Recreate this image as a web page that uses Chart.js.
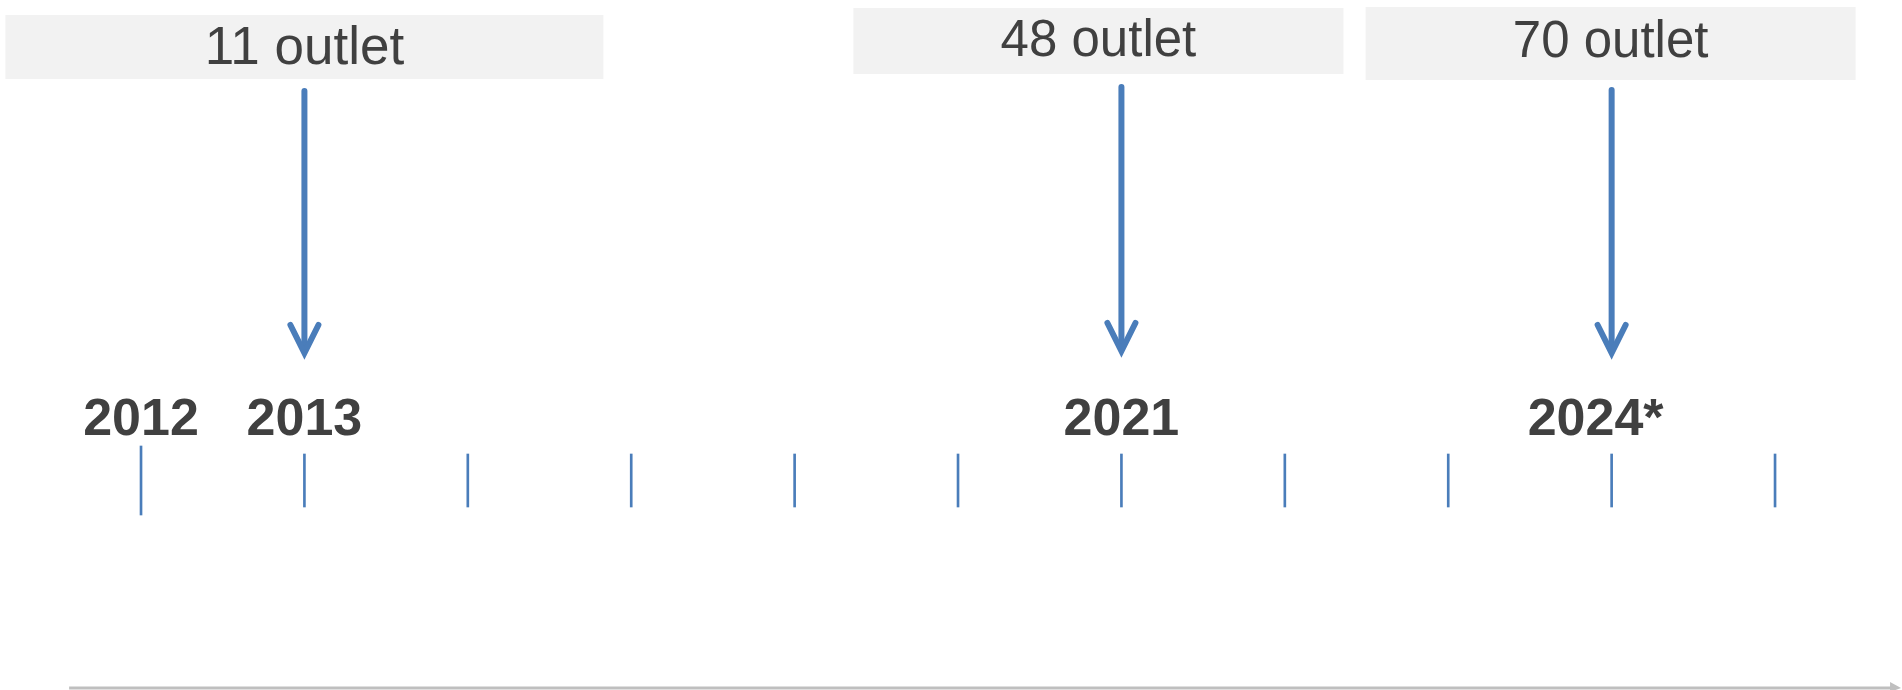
<!DOCTYPE html>
<html lang="id">
<head>
<meta charset="UTF-8">
<title>Timeline outlet</title>
<script src="https://cdn.jsdelivr.net/npm/chart.js"></script>
<style>
  html, body { margin: 0; padding: 0; background: #fff; overflow: hidden; }
  #wrap { width: 1902px; height: 690px; }
</style>
</head>
<body>
<div id="wrap"><canvas id="timeline" width="1902" height="690"></canvas></div>
<script>
// slots on the timeline (evenly spaced, not proportional to the years)
const tickLabels = ['2012', '2013', '', '', '', '', '2021', '', '', '2024*', ''];
// milestones: slot index and number of outlets
const milestoneSlots = [1, 6, 9];
const outletCounts = [11, 48, 70];
const milestoneText = outletCounts.map(n => n + ' outlet');

// layout / style (not data)
const BLUE = '#4a7dba';
const TEXT = '#404040';
const layout = {
    xMin: -0.863, xMax: 10.777,
    tick: [454, 507], firstTick: [446, 515],
    yearY: 421, yearDx: { '2024*': -16 },
    arrowTop: [91, 87, 90], arrowTip: [359, 357, 359],
    boxes: [
        { dx: 0, half: 299, y0: 15, y1: 79, ty: 49, size: 53 },
        { dx: -23, half: 245, y0: 8, y1: 74, ty: 42, size: 51 },
        { dx: -1, half: 245, y0: 7, y1: 80, ty: 43, size: 51 }
    ],
    axis: { x0: -0.44, x1: 10.765, y: 688 }
};

const tickData = tickLabels.map((_, i) => ({ x: i, y: i === 0 ? layout.firstTick : layout.tick }));

const arrowSets = milestoneSlots.map((slot, k) => ({
    type: 'line',
    data: [{ x: slot, y: layout.arrowTop[k] }, { x: slot, y: layout.arrowTip[k] - 9 }],
    borderColor: BLUE,
    borderWidth: 6,
    borderCapStyle: 'round',
    pointRadius: 0,
    fill: false
}));

const decor = {
    id: 'decor',
    beforeDatasetsDraw(chart) {
        const { ctx, scales: { x, y } } = chart;
        ctx.save();
        // grey base arrow
        const ax0 = x.getPixelForValue(layout.axis.x0);
        const ax1 = x.getPixelForValue(layout.axis.x1);
        const ay = y.getPixelForValue(layout.axis.y);
        ctx.strokeStyle = '#bfbfbf';
        ctx.lineWidth = 3;
        ctx.beginPath();
        ctx.moveTo(ax0, ay);
        ctx.lineTo(ax1 - 6, ay);
        ctx.stroke();
        ctx.fillStyle = '#bfbfbf';
        ctx.beginPath();
        ctx.moveTo(ax1 - 10, ay - 6);
        ctx.lineTo(ax1 + 1, ay);
        ctx.lineTo(ax1 - 10, ay + 4);
        ctx.closePath();
        ctx.fill();

        // boxes with labels
        milestoneSlots.forEach((slot, k) => {
            const b = layout.boxes[k];
            const cx = x.getPixelForValue(slot) + b.dx;
            ctx.fillStyle = '#f2f2f2';
            ctx.fillRect(cx - b.half, y.getPixelForValue(b.y0), b.half * 2, y.getPixelForValue(b.y1) - y.getPixelForValue(b.y0));
            ctx.fillStyle = TEXT;
            ctx.font = b.size + 'px "Liberation Sans", Arial, sans-serif';
            ctx.textAlign = 'center';
            ctx.textBaseline = 'middle';
            ctx.fillText(milestoneText[k], cx, y.getPixelForValue(b.ty));
        });

        // year labels
        ctx.font = 'bold 52px "Liberation Sans", Arial, sans-serif';
        ctx.fillStyle = TEXT;
        ctx.textAlign = 'center';
        ctx.textBaseline = 'middle';
        tickLabels.forEach((lab, i) => {
            if (!lab) return;
            const dx = layout.yearDx[lab] || 0;
            ctx.fillText(lab, x.getPixelForValue(i) + dx, y.getPixelForValue(layout.yearY));
        });
        ctx.restore();
    },
    afterDatasetsDraw(chart) {
        const { ctx, scales: { x, y } } = chart;
        ctx.save();
        ctx.strokeStyle = BLUE;
        ctx.lineWidth = 6;
        ctx.lineCap = 'round';
        ctx.lineJoin = 'miter';
        milestoneSlots.forEach((slot, k) => {
            const px = x.getPixelForValue(slot);
            const py = y.getPixelForValue(layout.arrowTip[k]) - 6;
            ctx.beginPath();
            ctx.moveTo(px - 14, py - 28);
            ctx.lineTo(px, py);
            ctx.lineTo(px + 14, py - 28);
            ctx.stroke();
        });
        ctx.restore();
    }
};

new Chart(document.getElementById('timeline'), {
    type: 'bar',
    data: {
        datasets: [
            {
                type: 'bar',
                data: tickData,
                backgroundColor: BLUE,
                barThickness: 2
            },
            ...arrowSets
        ]
    },
    options: {
        responsive: false,
        animation: false,
        events: [],
        layout: { padding: 0 },
        plugins: { legend: { display: false }, tooltip: { enabled: false } },
        scales: {
            x: { type: 'linear', offset: false, min: layout.xMin, max: layout.xMax, display: false },
            y: { type: 'linear', min: 0, max: 690, reverse: true, display: false }
        }
    },
    plugins: [decor]
});
</script>
</body>
</html>
